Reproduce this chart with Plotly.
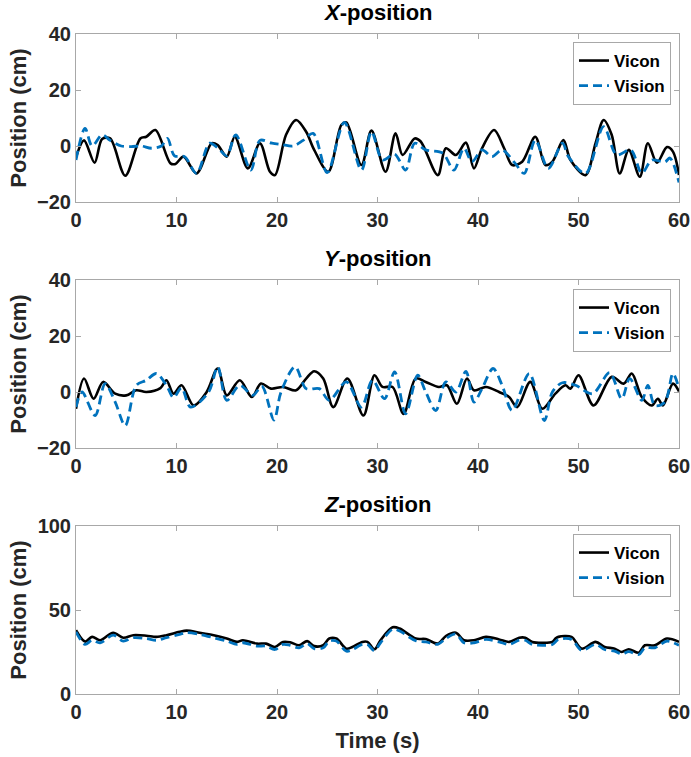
import plotly.graph_objects as go

# ---------------- data ----------------
x_vicon_t = [0, 0.8, 1.85, 2.6, 3.4, 4.9, 6.4, 7.0, 7.9, 9.4, 9.9, 10.7, 12.0, 13.5, 14.1, 15.0, 15.8, 17.1, 18.3, 19.3, 19.8, 20.9, 21.9, 22.9, 23.7, 25.1, 26.4, 26.9, 28.4, 29.4, 30.8, 31.8, 32.5, 33.7, 34.3, 36.0, 36.8, 37.8, 38.8, 39.6, 40.4, 41.6, 42.6, 43.4, 44.4, 45.7, 46.7, 47.4, 48.5, 49.2, 50.7, 51.7, 52.5, 53.3, 54.1, 55.0, 56.1, 56.9, 57.8, 58.8, 59.4, 60]
x_vicon_v = [-4, 2, -6, 2.5, 2.7, -10.6, 2.7, 3.3, 5.7, -6.2, -6.4, -3.8, -9.8, 1, 0.3, -3.8, 3.3, -8, 1, -9.2, -10.4, 4, 9.3, 5.1, -1.4, -9.2, 7.5, 8.4, -6.8, 5.5, -9.2, 4.5, -3.2, 2.7, 1.6, -10.4, -0.8, -3.2, 1.2, -8, -0.8, 5.7, -0.8, -6.8, -5.6, 3.3, -6.8, -5.6, 2.1, -5, -10.4, 1, 9.3, 4, -9.8, -1.4, -11, 1, -6, -0.4, -2, -10.4]

x_vision_t = [0, 0.9, 1.6, 2.6, 3.4, 4.5, 5.5, 6.5, 7.5, 8.5, 9.1, 9.8, 10.8, 12.0, 13.3, 14.2, 15.0, 15.9, 17.4, 18.3, 19.5, 20.5, 21.6, 22.6, 23.6, 25.0, 26.7, 28.4, 29.4, 30.5, 31.7, 32.8, 33.7, 34.8, 36.5, 37.6, 38.6, 39.4, 40.4, 41.4, 42.4, 43.7, 44.6, 45.7, 47.0, 48.4, 49.0, 50.7, 52.5, 53.8, 55.2, 56.3, 57.3, 58.6, 59.1, 60]
x_vision_v = [-5, 6.3, 0, 4, 2, 0, -0.2, 0, -0.8, 0, 2.7, -3.5, -3.8, -9.8, 1, -1, -3.5, 4, -8.6, 2, 1, 0.5, 0, 2, 4.5, -9.5, 8.4, -8.6, 5.1, -5, -2.9, -8.6, 1, -1.4, -2.6, -8.6, -0.8, -5.6, -1.4, -3.8, -1.4, -6.2, -9.8, 2.1, -8, 1, -3.8, -9.8, 6.9, -3.2, -1.4, -9.7, -5, -5.7, -4.3, -13]

y_vicon_t = [0, 0.8, 1.75, 2.7, 3.9, 5.0, 6.0, 7.0, 8.4, 9.0, 9.7, 10.5, 11.7, 13.0, 14.1, 15.0, 16.3, 17.5, 18.4, 19.4, 20.6, 21.9, 22.9, 23.7, 24.6, 25.6, 27.0, 28.6, 29.7, 30.5, 31.5, 32.6, 33.8, 34.8, 36.1, 36.9, 37.9, 38.9, 39.6, 40.8, 42.1, 43.1, 43.9, 45.2, 46.4, 47.7, 48.7, 49.2, 50.0, 51.5, 53.3, 54.5, 55.3, 56.3, 57.3, 57.9, 58.4, 59.4, 60]
y_vicon_v = [-6, 4.8, -2.4, 3.6, -0.6, -1.2, 0.6, 0, 1.4, 4.2, -0.6, 2.4, -4.8, 0, 8.4, -1.2, 4.2, -1.8, 3, 1.2, 1.8, 0.6, 4.8, 7.4, 4.8, -5.4, 4.8, -8.4, 6, 1.8, 1.8, -7.8, 4.8, 3.6, 1.8, 2.4, -4.2, 4.8, 0.6, 1.8, 0, -1.8, -5.4, 3.6, -6, -0.6, 2.4, 1.2, 6, -4.8, 5.4, 3, 6.6, -1.8, -4.8, -2.4, -4.8, 3, 0.2]

y_vision_t = [0, 0.6, 1.9, 2.9, 3.9, 4.9, 6.0, 7.0, 8.0, 9.0, 9.7, 10.5, 11.4, 13.2, 14.1, 15.0, 16.3, 17.6, 18.5, 19.7, 20.4, 21.8, 22.9, 24.2, 25.2, 26.9, 28.4, 29.5, 30.7, 31.7, 32.8, 34.0, 34.8, 35.8, 36.8, 37.8, 38.8, 39.6, 40.4, 41.5, 42.4, 43.4, 45.1, 46.6, 47.4, 48.4, 49.7, 51.4, 53.1, 54.3, 55.1, 56.3, 56.9, 57.6, 58.6, 59.4, 60]
y_vision_v = [-5.4, 0, -8.4, 3, -3.6, -12, 2.4, 4.2, 6.6, 2.4, -2, 1.5, -5.4, 0, 9, -3, 2.4, -1.2, 2, -10, 0, 9, 1.2, 1.2, -3, 3.6, -5.4, 4.2, -2.4, 7.2, -7.8, 6, 0, -6.6, 3.6, 0, 7.4, -3.6, 1.2, 8.4, 2.4, -6.6, 6.6, -10.2, 0, 3.3, 2.4, -0.6, 6.9, -2.4, 4.8, -3, 2.4, -4.8, -3.6, 6.6, 1.2]

z_vicon_t = [0, 0.9, 1.6, 2.4, 3.7, 4.7, 5.7, 7.0, 8.0, 9.0, 10.3, 11.0, 12.3, 13.7, 15.0, 16.0, 16.6, 18.0, 18.9, 19.8, 20.6, 21.3, 22.2, 23.0, 23.7, 24.6, 25.2, 25.9, 26.9, 27.5, 28.5, 29.0, 29.7, 30.3, 31.5, 32.2, 33.8, 34.8, 36.0, 36.8, 37.8, 38.6, 39.6, 40.8, 42.1, 43.1, 44.1, 44.7, 45.4, 46.4, 47.4, 47.7, 48.0, 49.3, 50.3, 51.7, 52.6, 53.6, 54.3, 55.0, 56.0, 56.6, 57.6, 58.8, 60]
z_vicon_v = [38, 31.2, 34, 32, 36.5, 33.5, 35, 34.7, 34, 35, 37, 37.7, 36.5, 35, 33, 31, 32, 30, 30, 28, 31, 30.8, 29, 31.5, 28.5, 29, 33, 33, 27, 28, 31, 31, 26.6, 32, 39.7, 39, 33, 32.7, 30, 34.5, 36.5, 32, 32, 34, 32.5, 31, 33.5, 33.5, 31, 30.5, 31, 33, 34, 34, 27, 31, 28, 27, 25, 26.6, 24.6, 29, 29, 33, 31]

z_vision_t = [0, 0.9, 1.6, 2.4, 3.7, 4.7, 5.7, 7.0, 8.0, 9.0, 10.3, 11.0, 12.3, 13.7, 15.0, 16.0, 16.6, 18.0, 18.9, 19.8, 20.6, 21.3, 22.2, 23.0, 23.7, 24.6, 25.2, 25.9, 26.9, 27.5, 28.5, 29.0, 29.7, 30.3, 31.5, 32.2, 33.8, 34.8, 36.0, 36.8, 37.8, 38.6, 39.6, 40.8, 42.1, 43.1, 44.1, 44.7, 45.4, 46.4, 47.4, 48.0, 49.3, 50.3, 51.7, 52.6, 53.6, 54.3, 55.0, 56.0, 56.6, 57.6, 58.8, 60]
z_vision_v = [37, 29.5, 32, 30.5, 35, 31.5, 33.5, 33, 32, 33.5, 35.5, 36.5, 35.5, 33.5, 31.5, 29.5, 30.5, 28.5, 28.5, 26.5, 29.5, 29, 27.5, 30, 27, 27.5, 31.5, 31.5, 25.5, 26.5, 29.5, 29.5, 25.8, 30.5, 38.5, 37.5, 31.7, 31, 29.6, 33, 35.7, 30.5, 30.5, 32.5, 31, 29.5, 32, 32, 29.5, 29, 29.5, 32.5, 32.5, 26, 29.5, 26.5, 25.5, 23.8, 25.2, 23.5, 27.5, 27.5, 31.5, 29]

panel_titles = ["<b><i>X</i>-position</b>", "<b><i>Y</i>-position</b>", "<b><i>Z</i>-position</b>"]
series_names = ["Vicon", "Vision"]
x_ticks = [0, 10, 20, 30, 40, 50, 60]
y_ticks_xy = [-20, 0, 20, 40]
y_ticks_z = [0, 50, 100]

# ---------------- figure ----------------
FONT = "Liberation Sans, Arial, sans-serif"
BLACK = "#000000"
BLUE = "#0072BD"
AX = "#a8a8a8"
TXT = "#262626"

panels = [
    (x_vicon_t, x_vicon_v, x_vision_t, x_vision_v),
    (y_vicon_t, y_vicon_v, y_vision_t, y_vision_v),
    (z_vicon_t, z_vicon_v, z_vision_t, z_vision_v),
]

fig = go.Figure()
legend_ids = ["legend", "legend2", "legend3"]
for i, (vt, vv, bt, bv) in enumerate(panels):
    xa = "x" if i == 0 else f"x{i+1}"
    ya = "y" if i == 0 else f"y{i+1}"
    fig.add_trace(go.Scatter(x=vt, y=vv, mode="lines", name=series_names[0],
                             line=dict(color=BLACK, width=2.6, shape="spline", smoothing=0.9),
                             xaxis=xa, yaxis=ya, legend=legend_ids[i]))
    fig.add_trace(go.Scatter(x=bt, y=bv, mode="lines", name=series_names[1],
                             line=dict(color=BLUE, width=2.8, dash="9px,5px", shape="spline", smoothing=0.9),
                             xaxis=xa, yaxis=ya, legend=legend_ids[i]))

W, H = 691, 757
ML, MR, MT, MB = 76, 12, 34, 63
ph = H - MT - MB
domains = [[492 / ph, 1.0], [246 / ph, 414 / ph], [0, 168 / ph]]

axis_common = dict(showline=True, linecolor=AX, linewidth=1, mirror="ticks",
                   ticks="inside", ticklen=5, tickcolor=AX, showgrid=False, zeroline=False,
                   ticklabeloverflow="allow", automargin=False,
                   tickfont=dict(family=FONT, size=20, color=TXT, weight="bold"))

layout = dict(
    width=W, height=H, margin=dict(l=ML, r=MR, t=MT, b=MB, autoexpand=False),
    paper_bgcolor="white", plot_bgcolor="white",
    font=dict(family=FONT, color=TXT, weight="bold"),
)
for i in range(3):
    xk = "xaxis" if i == 0 else f"xaxis{i+1}"
    yk = "yaxis" if i == 0 else f"yaxis{i+1}"
    ya = "y" if i == 0 else f"y{i+1}"
    xa = "x" if i == 0 else f"x{i+1}"
    layout[xk] = dict(axis_common, range=[0, 60], tickvals=x_ticks, anchor=ya, domain=[0, 1])
    if i < 2:
        layout[yk] = dict(axis_common, range=[-20, 40], tickvals=y_ticks_xy, anchor=xa, domain=domains[i])
    else:
        layout[yk] = dict(axis_common, range=[0, 100], tickvals=y_ticks_z, anchor=xa, domain=domains[i])
    layout[yk]["title"] = dict(text="<b>Position (cm)</b>", font=dict(family=FONT, size=22, color=TXT), standoff=4)
layout["xaxis3"]["title"] = dict(text="<b>Time (s)</b>", font=dict(family=FONT, size=22, color=TXT), standoff=10)

legend_tops = [(694 - 42) / ph, (694 - 289) / ph, (694 - 534) / ph]
for i, lid in enumerate(legend_ids):
    layout[lid] = dict(x=(671 - ML) / (W - ML - MR), y=legend_tops[i], xanchor="right", yanchor="top",
                       bgcolor="white", bordercolor=AX, borderwidth=1,
                       font=dict(family=FONT, size=17, color="#000000", weight="bold"),
                       itemwidth=30, tracegroupgap=0)

fig.update_layout(**layout)

for i, t in enumerate(panel_titles):
    top = domains[i][1]
    fig.add_annotation(text=t, xref="paper", yref="paper", x=0.5, y=top, yshift=7,
                       xanchor="center", yanchor="bottom", showarrow=False,
                       font=dict(family=FONT, size=22, color="#000000"))

fig.write_html("out.html")
